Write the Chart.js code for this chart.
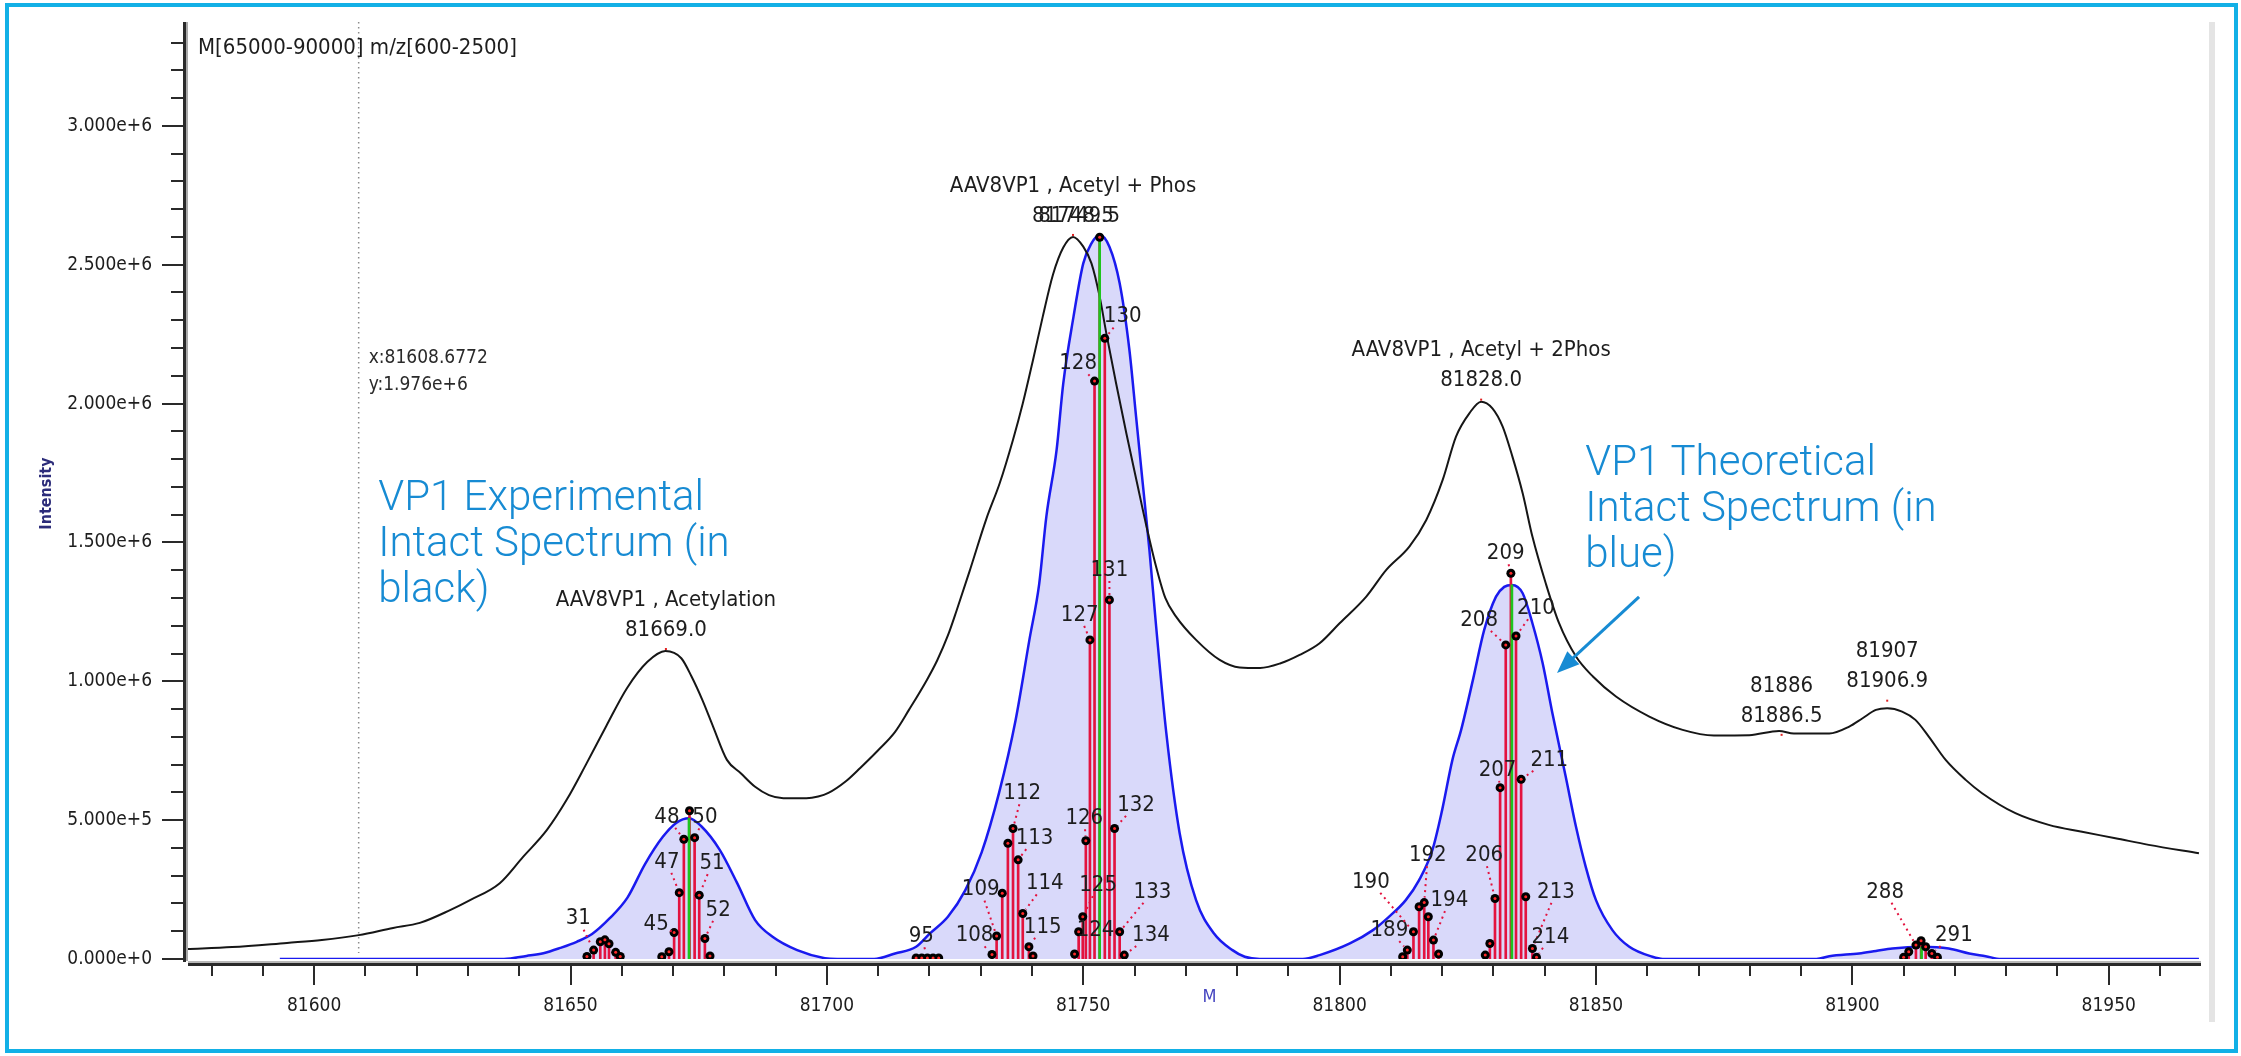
<!DOCTYPE html>
<html>
<head>
<meta charset="utf-8">
<title>AAV8 VP1 intact spectrum</title>
<script src="https://cdn.jsdelivr.net/npm/chart.js@4.4.1/dist/chart.umd.min.js"></script>
<style>
  html, body { margin: 0; padding: 0; background: #fff; }
  #spectrum { display: block; }
</style>
</head>
<body>
<canvas id="spectrum" width="2241" height="1056"></canvas>
<script>
// experimental (black) deconvoluted spectrum
var expMass = [81575.2, 81584, 81594.7, 81601.5, 81608.7, 81615.4, 81620.6, 81626.5, 81630.4, 81636.2, 81640.7, 81645.4, 81649.3, 81653, 81657, 81661, 81665, 81668.5, 81671.6, 81673.6, 81675.7, 81677.8, 81680.5, 81683.2, 81686, 81688.7, 81691.5, 81696, 81698.3, 81700.3, 81703.7, 81706.5, 81709.9, 81713.3, 81716, 81719.5, 81721.5, 81723.6, 81725.3, 81727.8, 81731.1, 81733.7, 81736.3, 81738.2, 81740.2, 81742.1, 81744.1, 81746.1, 81748, 81750, 81751.6, 81753.2, 81754.5, 81756.4, 81758.4, 81760.5, 81762.3, 81764.2, 81766, 81768.1, 81772, 81776.6, 81780.5, 81784.5, 81788.5, 81792.2, 81796.1, 81800, 81805.2, 81809.1, 81813.6, 81816.9, 81820.1, 81822.7, 81825.3, 81827.6, 81829.8, 81831.8, 81833.7, 81835.7, 81837.6, 81840.2, 81842.8, 81846.1, 81849.4, 81853.9, 81860.4, 81866.9, 81873, 81879.9, 81885.7, 81888.6, 81895.5, 81899.4, 81902, 81904.6, 81906.8, 81909.7, 81912.3, 81914.9, 81918.2, 81922.1, 81925.3, 81931.8, 81938.3, 81944.8, 81951.3, 81957.8, 81967.6];
var expIntensity = [36000, 43000, 58000, 68000, 86000, 112000, 130000, 176000, 212000, 273000, 367000, 465000, 575000, 700000, 840000, 975000, 1070000, 1109000, 1083000, 1017000, 933000, 837000, 717000, 669000, 620000, 590000, 579000, 579000, 585000, 598000, 640000, 688000, 750000, 818000, 897000, 1005000, 1075000, 1165000, 1255000, 1395000, 1585000, 1713000, 1870000, 2000000, 2157000, 2313000, 2465000, 2562000, 2600000, 2565000, 2505000, 2385000, 2253000, 2073000, 1893000, 1713000, 1560000, 1413000, 1300000, 1233000, 1149000, 1077000, 1050000, 1048000, 1065000, 1095000, 1137000, 1209000, 1305000, 1401000, 1485000, 1581000, 1725000, 1881000, 1965000, 2007000, 1983000, 1917000, 1809000, 1677000, 1521000, 1353000, 1209000, 1089000, 1017000, 945000, 873000, 825000, 805000, 806000, 821000, 812000, 812000, 837000, 867000, 897000, 903000, 891000, 861000, 801000, 717000, 645000, 597000, 525000, 483000, 458000, 435000, 411000, 381000];

// theoretical (blue) spectrum
var theoMass = [81593.3, 81637, 81641.4, 81644.7, 81648, 81651.2, 81654.2, 81657.6, 81661.1, 81664.5, 81668, 81670.6, 81673.1, 81675.5, 81679.1, 81682.5, 81686, 81689.4, 81694.2, 81699.6, 81702, 81709.2, 81713.3, 81717.4, 81720.1, 81723.6, 81727, 81730.2, 81733.6, 81736.8, 81739.5, 81741.4, 81742.8, 81744.8, 81746.1, 81748.1, 81750, 81751.6, 81753.2, 81755.1, 81757.1, 81759, 81760.3, 81761.6, 81762.9, 81764.2, 81766.2, 81768.8, 81772, 81775.5, 81779.1, 81781.5, 81784.4, 81792.8, 81796.1, 81802, 81806.5, 81809.5, 81812.9, 81815.5, 81818.1, 81820, 81822, 81823.7, 81826, 81828.2, 81830.5, 81832.1, 81833.6, 81835.7, 81837.6, 81839.6, 81841.5, 81844.1, 81846.1, 81848, 81850, 81853.2, 81856.5, 81861, 81863, 81893, 81895.5, 81901.3, 81904.6, 81907.8, 81913.6, 81918.8, 81922.8, 81926, 81929, 81967.6];
var theoIntensity = [0, 0, 11000, 21000, 40000, 62000, 90000, 146000, 221000, 341000, 440000, 490000, 507000, 478000, 393000, 273000, 140000, 80000, 32000, 3000, 0, 0, 20000, 44000, 92000, 152000, 248000, 385000, 600000, 860000, 1150000, 1350000, 1593000, 1833000, 2073000, 2313000, 2505000, 2577000, 2607000, 2565000, 2433000, 2193000, 1953000, 1713000, 1473000, 1200000, 813000, 453000, 212000, 92000, 32000, 8000, 0, 0, 14000, 56000, 104000, 150000, 212000, 284000, 393000, 537000, 717000, 825000, 1005000, 1185000, 1305000, 1340000, 1347000, 1317000, 1209000, 1065000, 885000, 656000, 476000, 332000, 212000, 104000, 44000, 8000, 0, 0, 10000, 20000, 29000, 38000, 44000, 38000, 20000, 10000, 0, 0];

// matched sticks (red) and theoretical apex lines (green)
var stickMass = [81653.2, 81654.5, 81655.8, 81656.7, 81657.5, 81658.8, 81659.7, 81667.8, 81669.2, 81670.2, 81671.2, 81672.1, 81673.2, 81674.2, 81675.1, 81676.2, 81677.2, 81717.4, 81718.5, 81719.6, 81720.7, 81721.8, 81732.2, 81733.1, 81734.2, 81735.3, 81736.3, 81737.3, 81738.2, 81739.4, 81740.2, 81748.3, 81749.1, 81749.9, 81750.5, 81751.3, 81752.2, 81753.2, 81754.2, 81755.1, 81756.1, 81757.1, 81758, 81812.3, 81813.2, 81814.4, 81815.5, 81816.5, 81817.3, 81818.3, 81819.3, 81828.4, 81829.3, 81830.3, 81831.3, 81832.4, 81833.4, 81834.4, 81835.4, 81836.3, 81837.6, 81838.4, 81910, 81911, 81912.4, 81913.4, 81914.3, 81915.5, 81916.6];
var stickIntensity = [9000, 32000, 62000, 69000, 55000, 24000, 9000, 8000, 26000, 95000, 239000, 431000, 534000, 437000, 230000, 74000, 11000, 4000, 4000, 4000, 4000, 4000, 16000, 83000, 237000, 417000, 470000, 357000, 164000, 44000, 11000, 18000, 98000, 152000, 426000, 1149000, 2081000, 2599000, 2235000, 1293000, 470000, 98000, 14000, 8000, 32000, 98000, 188000, 203000, 152000, 68000, 18000, 14000, 56000, 218000, 617000, 1131000, 1389000, 1163000, 647000, 224000, 38000, 6000, 6000, 26000, 50000, 66000, 44000, 20000, 6000];
var apexMass = [81673.1, 81753.2, 81833.6, 81913.5];
var apexIntensity = [507000, 2607000, 1347000, 44000];

// stick labels: text, where the text sits, which stick it points at
var labelText = ["31", "45", "47", "48", "50", "51", "52", "95", "108", "109", "112", "113", "114", "115", "124", "125", "126", "127", "128", "130", "131", "132", "133", "134", "189", "190", "192", "194", "206", "207", "208", "209", "210", "211", "213", "214", "288", "291"];
var labelMass = [81651.5, 81666.7, 81668.8, 81668.8, 81676.2, 81677.6, 81678.8, 81718.4, 81728.8, 81730, 81738.1, 81740.5, 81742.5, 81742.1, 81752.4, 81752.9, 81750.2, 81749.3, 81749, 81757.7, 81755.1, 81760.3, 81763.5, 81763.2, 81809.7, 81806.1, 81817.2, 81821.4, 81828.2, 81830.8, 81827.2, 81832.4, 81838.3, 81840.9, 81842.2, 81841.1, 81906.4, 81919.8];
var labelIntensity = [145000, 125000, 350000, 512000, 510000, 345000, 177000, 82000, 85000, 250000, 597000, 435000, 272000, 116000, 104000, 266000, 507000, 1239000, 2145000, 2313000, 1401000, 555000, 242000, 86000, 104000, 278000, 374000, 212000, 374000, 681000, 1221000, 1461000, 1263000, 717000, 242000, 80000, 242000, 86000];
var labelTarget = [81654.5, 81670.2, 81671.2, 81672.1, 81674.2, 81675.1, 81676.2, 81719.6, 81732.2, 81733.1, 81736.3, 81737.3, 81738.2, 81739.4, 81749.1, 81749.9, 81750.5, 81751.3, 81752.2, 81754.2, 81755.1, 81756.1, 81757.1, 81758, 81813.2, 81814.4, 81816.5, 81818.3, 81830.3, 81831.3, 81832.4, 81833.4, 81834.4, 81835.4, 81837.6, 81838.4, 81912.4, 81915.5];

// peak annotations on the experimental trace
var peakMass = [81668.6, 81748, 81827.6, 81886.2, 81906.8];
var peakIntensity = [1109000, 2600000, 2007000, 800000, 923000];
var peakTitle = ["AAV8VP1 , Acetylation", "AAV8VP1 , Acetyl + Phos", "AAV8VP1 , Acetyl + 2Phos", "81886", "81907"];
var peakValue = ["81669.0", "81748.5", "81828.0", "81886.5", "81906.9"];

// axis ticks
var xTickValues = [81600, 81650, 81700, 81750, 81800, 81850, 81900, 81950];
var yTickValues = [0, 500000, 1000000, 1500000, 2000000, 2500000, 3000000];

(function () {
  "use strict";

  var FONT = "'DejaVu Sans Condensed', 'DejaVu Sans', sans-serif";
  var INK = "#1d1d1d";
  var RED = "#e3133f";
  var NOTE = "#178bd3";

  function pairs(xs, ys) {
    return xs.map(function (x, i) {
      return { x: x, y: ys[i] };
    });
  }

  function put(ctx, s, x, y, font, color, align) {
    ctx.font = font;
    ctx.fillStyle = color;
    ctx.textAlign = align || "center";
    ctx.textBaseline = "middle";
    ctx.fillText(s, x, y);
  }

  var decor = {
    id: "decor",
    beforeDraw: function (chart) {
      var ctx = chart.ctx;
      var a = chart.chartArea;
      var cx = chart.scales.x.getPixelForValue(81608.6772);
      ctx.save();
      ctx.fillStyle = "#fff";
      ctx.fillRect(0, 0, chart.width, chart.height);
      ctx.fillStyle = "#e4e4e4";
      ctx.fillRect(a.right + 8, a.top, 6, a.bottom - a.top + 63);
      // cursor line
      ctx.strokeStyle = "#8c8c8c";
      ctx.lineWidth = 1.5;
      ctx.setLineDash([1.5, 3.5]);
      ctx.beginPath();
      ctx.moveTo(cx, a.top);
      ctx.lineTo(cx, a.bottom - 6);
      ctx.stroke();
      ctx.restore();
    },
    afterDatasetsDraw: function (chart) {
      var ctx = chart.ctx;
      var xs = chart.scales.x;
      var ys = chart.scales.y;
      var lf = "22px " + FONT;
      ctx.save();

      // stick labels with dotted leaders
      labelText.forEach(function (t, i) {
        var lx = xs.getPixelForValue(labelMass[i]);
        var ly = ys.getPixelForValue(labelIntensity[i]);
        var k = stickMass.indexOf(labelTarget[i]);
        var tx = xs.getPixelForValue(stickMass[k]);
        var ty = ys.getPixelForValue(stickIntensity[k]);
        ctx.font = lf;
        var hw = ctx.measureText(t).width / 2 + 3;
        var hh = 11;
        var dx = tx - lx;
        var dy = ty - ly;
        var s = Math.min(dx ? hw / Math.abs(dx) : Infinity, dy ? hh / Math.abs(dy) : Infinity);
        if (s < 1) {
          var d = Math.sqrt(dx * dx + dy * dy);
          ctx.strokeStyle = RED;
          ctx.lineWidth = 2;
          ctx.setLineDash([2, 4]);
          ctx.beginPath();
          ctx.moveTo(lx + dx * s, ly + dy * s);
          ctx.lineTo(tx - (dx / d) * 5, ty - (dy / d) * 5);
          ctx.stroke();
        }
        put(ctx, t, lx, ly, lf, INK);
      });
      ctx.setLineDash([]);

      // peak annotations
      peakTitle.forEach(function (t, i) {
        var px = xs.getPixelForValue(peakMass[i]);
        var py = ys.getPixelForValue(peakIntensity[i]);
        ctx.fillStyle = "#e02020";
        ctx.fillRect(px - 1, py - 3, 2, 2);
        put(ctx, t, px, py - 51, lf, INK);
        put(ctx, peakValue[i], px, py - 21, lf, INK);
      });
      // second, overlapping value label on the main peak
      put(ctx, "81749.5", xs.getPixelForValue(81749.2), ys.getPixelForValue(peakIntensity[1]) - 21, lf, INK);

      ctx.restore();
    },
    afterDraw: function (chart) {
      var ctx = chart.ctx;
      var a = chart.chartArea;
      var xs = chart.scales.x;
      var ys = chart.scales.y;
      var k, v, p;
      ctx.save();

      // axis lines
      ctx.fillStyle = "#2a2a2a";
      ctx.fillRect(a.left - 3, a.top, 3, a.bottom + 3 - a.top);
      ctx.fillStyle = "#a9a9a9";
      ctx.fillRect(a.left, a.top, 2, a.bottom + 2 - a.top);
      ctx.fillStyle = "#b8b8b8";
      ctx.fillRect(a.left + 2, a.bottom + 2, a.right - a.left - 2, 2);
      ctx.fillStyle = "#2a2a2a";
      ctx.fillRect(a.left + 2, a.bottom + 4, a.right - a.left - 2, 3);

      // y ticks every 1e5, long at labelled values
      for (k = 0; k * 100000 <= ys.max; k++) {
        p = Math.round(ys.getPixelForValue(k * 100000));
        if (k % 5 === 0) ctx.fillRect(a.left - 24, p - 1, 21, 2);
        else ctx.fillRect(a.left - 15, p - 1, 12, 2);
      }
      // x ticks every 10, long at labelled values
      for (v = Math.ceil(xs.min / 10) * 10; v <= xs.max; v += 10) {
        p = Math.round(xs.getPixelForValue(v));
        ctx.fillRect(p - 1, a.bottom + 7, 2, v % 50 === 0 ? 19 : 10);
      }

      // axis titles
      ctx.save();
      ctx.translate(a.left - 139, (a.top + a.bottom) / 2 + 3);
      ctx.rotate(-Math.PI / 2);
      put(ctx, "Intensity", 0, 0, "bold 16px " + FONT, "#2c2c7a");
      ctx.restore();
      put(ctx, "M", (a.left + a.right) / 2 + 16, a.bottom + 38, "18px " + FONT, "#4646c0");

      // range + cursor read-out
      put(ctx, "M[65000-90000] m/z[600-2500]", a.left + 12, a.top + 26, "22px " + FONT, INK, "left");
      var cx = xs.getPixelForValue(81608.6772);
      var cy = ys.getPixelForValue(1976000);
      put(ctx, "x:81608.6772", cx + 10, cy - 52, "19px " + FONT, "#2a2a2a", "left");
      put(ctx, "y:1.976e+6", cx + 10, cy - 25, "19px " + FONT, "#2a2a2a", "left");

      // blue notes
      ctx.font = "300 42px Roboto";
      ctx.fillStyle = NOTE;
      ctx.textAlign = "left";
      ctx.textBaseline = "alphabetic";
      var lx = xs.getPixelForValue(81612.5);
      var ly = ys.getPixelForValue(1618000);
      ["VP1 Experimental", "Intact Spectrum (in", "black)"].forEach(function (s, i) {
        ctx.fillText(s, lx, ly + i * 46);
      });
      var rx = xs.getPixelForValue(81847.9);
      var ry = ys.getPixelForValue(1743000);
      ["VP1 Theoretical", "Intact Spectrum (in", "blue)"].forEach(function (s, i) {
        ctx.fillText(s, rx, ry + i * 46);
      });

      // arrow to the theoretical trace
      var x0 = xs.getPixelForValue(81858.4), y0 = ys.getPixelForValue(1304000);
      var x1 = xs.getPixelForValue(81842.4), y1 = ys.getPixelForValue(1030000);
      var ang = Math.atan2(y1 - y0, x1 - x0);
      ctx.strokeStyle = NOTE;
      ctx.lineWidth = 3;
      ctx.beginPath();
      ctx.moveTo(x0, y0);
      ctx.lineTo(x1 - Math.cos(ang) * 14, y1 - Math.sin(ang) * 14);
      ctx.stroke();
      ctx.beginPath();
      ctx.moveTo(x1, y1);
      ctx.lineTo(x1 - Math.cos(ang - 0.38) * 24, y1 - Math.sin(ang - 0.38) * 24);
      ctx.lineTo(x1 - Math.cos(ang + 0.38) * 24, y1 - Math.sin(ang + 0.38) * 24);
      ctx.closePath();
      ctx.fill();

      // frame
      ctx.strokeStyle = "#12b0e6";
      ctx.lineWidth = 4;
      ctx.strokeRect(7, 5, 2229, 1046);
      ctx.restore();
    }
  };

  Chart.defaults.font.family = FONT;

  new Chart(document.getElementById("spectrum"), {
    type: "scatter",
    data: {
      datasets: [
        {
          type: "line",
          label: "Theoretical",
          data: pairs(theoMass, theoIntensity),
          borderColor: "#1a1aef",
          borderWidth: 2.5,
          backgroundColor: "#d9d9fa",
          fill: "origin",
          pointRadius: 0,
          cubicInterpolationMode: "monotone",
          order: 6,
        },
        {
          type: "line",
          label: "Experimental",
          data: pairs(expMass, expIntensity),
          borderColor: "#161616",
          borderWidth: 2,
          fill: false,
          pointRadius: 0,
          cubicInterpolationMode: "monotone",
          order: 5,
        },
        {
          type: "bar",
          label: "Sticks",
          data: pairs(stickMass, stickIntensity),
          backgroundColor: RED,
          barThickness: 2,
          grouped: false,
          order: 4,
        },
        {
          type: "bar",
          label: "Apex",
          data: pairs(apexMass, apexIntensity),
          backgroundColor: "#1ec41e",
          barThickness: 2,
          grouped: false,
          order: 3,
        },
        {
          type: "scatter",
          label: "Stick tops",
          data: pairs(stickMass, stickIntensity),
          pointRadius: 4.5,
          pointBackgroundColor: "#000",
          pointBorderWidth: 0,
          order: 2,
        },
        {
          type: "scatter",
          label: "Stick centres",
          data: pairs(stickMass, stickIntensity),
          pointRadius: 1.5,
          pointBackgroundColor: "#ff2a2a",
          pointBorderWidth: 0,
          order: 1,
        },
      ],
    },
    options: {
      responsive: false,
      animation: false,
      devicePixelRatio: 1,
      layout: { padding: { top: 22, right: 40, left: 0, bottom: 0 } },
      plugins: {
        legend: { display: false },
        tooltip: { enabled: false },
      },
      scales: {
        x: {
          type: "linear",
          min: 81575,
          max: 81968,
          offset: false,
          grid: { display: false, drawTicks: true, tickLength: 36 },
          border: { display: false },
          ticks: {
            color: INK,
            font: { size: 19 },
            padding: 0,
            autoSkip: false,
            maxRotation: 0,
            callback: function (v) {
              return String(v);
            },
          },
          afterBuildTicks: function (scale) {
            scale.ticks = xTickValues.map(function (v) {
              return { value: v };
            });
          },
          afterFit: function (scale) {
            scale.height = 97;
          },
        },
        y: {
          type: "linear",
          min: 0,
          max: 3374000,
          grid: { display: false, drawTicks: true, tickLength: 34 },
          border: { display: false },
          ticks: {
            color: INK,
            font: { size: 19 },
            padding: 0,
            callback: function (v) {
              return Number(v).toExponential(3);
            },
          },
          afterBuildTicks: function (scale) {
            scale.ticks = yTickValues.map(function (v) {
              return { value: v };
            });
          },
          afterFit: function (scale) {
            scale.width = 186;
          },
        },
      },
    },
    plugins: [decor],
  });
})();
</script>
</body>
</html>
